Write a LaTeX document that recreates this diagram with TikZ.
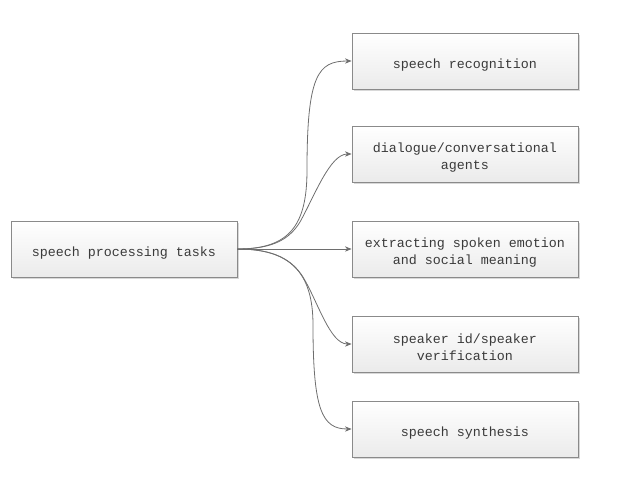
\documentclass[tikz,border=0pt]{standalone}
\usepackage{fontspec}
\newfontfamily\boxfont{Liberation Mono}
\usetikzlibrary{shadows,arrows.meta}
\definecolor{edgegray}{HTML}{6E6E6E}
\definecolor{bordergray}{HTML}{8A8A8A}
\definecolor{txtgray}{HTML}{3A3A3A}
\begin{document}
\begin{tikzpicture}[x=0.75pt,y=-0.75pt,
  taskbox/.style={draw=bordergray, line width=0.6pt, top color=white, bottom color=black!8,
    minimum width=169.5pt, minimum height=42pt, inner sep=0pt,
    drop shadow={shadow xshift=1.2pt, shadow yshift=-1.2pt, fill=black!30, opacity=0.5}},
  tasktext/.style={align=center, inner sep=0pt,
    font=\boxfont\fontsize{10}{12.75}\selectfont, text=txtgray},
  link/.style={draw=edgegray, line width=0.6pt, -{Stealth[length=5pt,width=4pt]}}]
\useasboundingbox (0,0) rectangle (622,490);
\node[taskbox] (root) at (124,249) {};
\node[taskbox] (t1) at (465,61) {};
\node[taskbox] (t2) at (465,154) {};
\node[taskbox] (t3) at (465,249) {};
\node[taskbox] (t4) at (465,344) {};
\node[taskbox] (t5) at (465,429) {};
\node[tasktext] (rootl) at ([yshift=-2.8pt]root.center) {speech processing tasks};
\node[tasktext] (t1l) at ([yshift=-2.8pt]t1.center) {speech recognition};
\node[tasktext] (t2l) at ([yshift=-2.4pt]t2.center) {dialogue/conversational\\agents};
\node[tasktext] (t3l) at ([yshift=-2.4pt]t3.center) {extracting spoken emotion\\and social meaning};
\node[tasktext] (t4l) at ([yshift=-2.4pt]t4.center) {speaker id/speaker\\verification};
\node[tasktext] (t5l) at ([yshift=-2.8pt]t5.center) {speech synthesis};
\draw[link] (root.east) .. controls (290,249) and (307,225) .. (307,170)
  .. controls (307,75) and (318,61) .. (t1.west);
\draw[link] (root.east) .. controls (275,249) and (290,238) .. (300,222)
  .. controls (315,195) and (330,154) .. (t2.west);
\draw[link] (root.east) -- (t3.west);
\draw[link] (root.east) .. controls (275,249) and (292,260) .. (303,277)
  .. controls (318,302) and (330,344) .. (t4.west);
\draw[link] (root.east) .. controls (290,249) and (313,272) .. (313,325)
  .. controls (313,410) and (322,429) .. (t5.west);
\end{tikzpicture}
\end{document}
